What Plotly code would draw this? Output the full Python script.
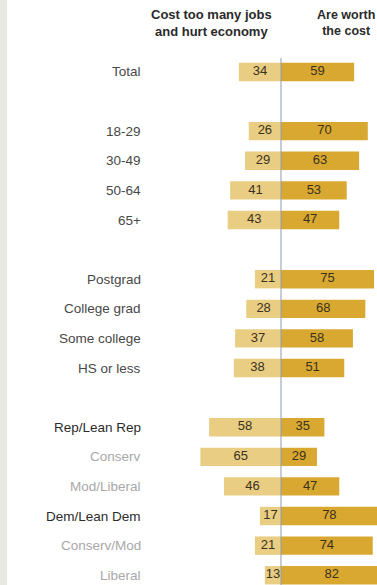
import plotly.graph_objects as go

# Survey groups, top to bottom; None marks a blank spacer row
groups = ["Total", None,
          "18-29", "30-49", "50-64", "65+", None,
          "Postgrad", "College grad", "Some college", "HS or less", None,
          "Rep/Lean Rep", "Conserv", "Mod/Liberal",
          "Dem/Lean Dem", "Conserv/Mod", "Liberal"]

cost_jobs = [34, None, 26, 29, 41, 43, None, 21, 28, 37, 38, None, 58, 65, 46, 17, 21, 13]
worth_cost = [59, None, 70, 63, 53, 47, None, 75, 68, 58, 51, None, 35, 29, 47, 78, 74, 82]

# Label emphasis: party totals darkest, ideological subgroups light
label_style = {
    "Rep/Lean Rep": "#2b2b2b", "Dem/Lean Dem": "#2b2b2b",
    "Conserv": "#a8a8a8", "Mod/Liberal": "#a8a8a8",
    "Conserv/Mod": "#a8a8a8", "Liberal": "#a8a8a8",
}

LIGHT = "#e9cd82"
DARK = "#d9a830"
TEXT = "#3a321e"
FONT = "Liberation Sans, Arial, sans-serif"

rows = [i for i, g in enumerate(groups) if g is not None]
left_vals = [cost_jobs[i] for i in rows]
right_vals = [worth_cost[i] for i in rows]

fig = go.Figure()

fig.add_trace(go.Bar(
    y=rows, x=[-v for v in left_vals], base=0, orientation="h",
    marker=dict(color=LIGHT, line=dict(width=0)), width=0.62,
    hoverinfo="skip", showlegend=False))
fig.add_trace(go.Bar(
    y=rows, x=right_vals, base=0, orientation="h",
    marker=dict(color=DARK, line=dict(width=0)), width=0.62,
    hoverinfo="skip", showlegend=False))

# Value labels centred in each bar
fig.add_trace(go.Scatter(
    y=rows, x=[-v / 2 for v in left_vals], mode="text",
    text=[str(v) for v in left_vals], textposition="middle center",
    textfont=dict(family=FONT, size=13, color=TEXT),
    hoverinfo="skip", showlegend=False, cliponaxis=False))
fig.add_trace(go.Scatter(
    y=rows, x=[v / 2 for v in right_vals], mode="text",
    text=[str(v) for v in right_vals], textposition="middle center",
    textfont=dict(family=FONT, size=13, color=TEXT),
    hoverinfo="skip", showlegend=False, cliponaxis=False))

annotations = []
for i in rows:
    g = groups[i]
    annotations.append(dict(
        x=-111, y=i, xref="x", yref="y", text=g, showarrow=False,
        xanchor="right", yanchor="middle",
        font=dict(family=FONT, size=13.5, color=label_style.get(g, "#484848"))))

# Column headers
annotations.append(dict(
    x=-56, y=-1.67, xref="x", yref="y",
    text="<b>Cost too many jobs</b><br><b>and hurt economy</b>",
    showarrow=False, xanchor="center", yanchor="middle", align="center",
    font=dict(family=FONT, size=13, color="#2a2a2a")))
annotations.append(dict(
    x=52.5, y=-1.67, xref="x", yref="y",
    text="<b>Are worth</b><br><b>the cost</b>",
    showarrow=False, xanchor="center", yanchor="middle", align="center",
    font=dict(family=FONT, size=12.5, color="#2a2a2a")))

shapes = [
    # zero divider
    dict(type="line", xref="x", yref="y", x0=0, x1=0, y0=-0.47, y1=17.4,
         line=dict(color="#8c9bb0", width=1)),
    # thin page-edge strip
    dict(type="rect", xref="paper", yref="paper", x0=0, x1=7 / 377, y0=0, y1=1,
         fillcolor="#e8e9e3", line=dict(width=0), layer="below"),
]

fig.update_layout(
    width=377, height=585,
    margin=dict(l=0, r=0, t=0, b=0),
    paper_bgcolor="white", plot_bgcolor="white",
    barmode="overlay",
    xaxis=dict(range=[-226.6, 77.42], visible=False, fixedrange=True),
    yaxis=dict(range=[17.33, -2.432], visible=False, fixedrange=True),
    annotations=annotations, shapes=shapes,
)

fig.write_html("out.html")
